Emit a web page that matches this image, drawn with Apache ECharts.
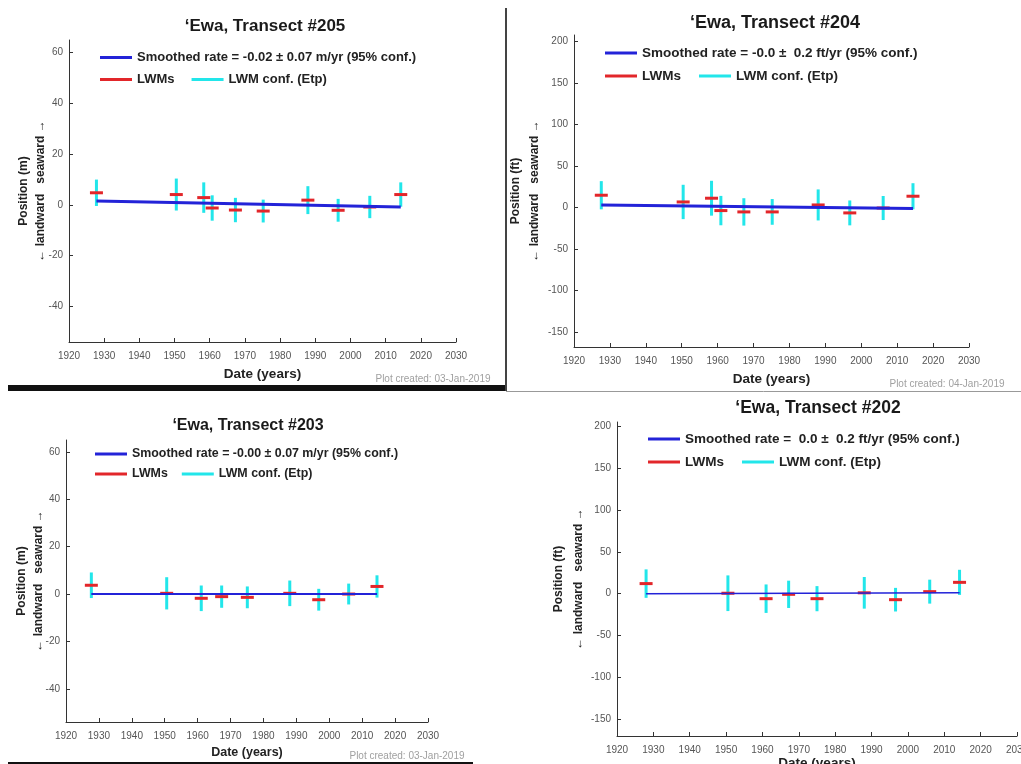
<!DOCTYPE html>
<html>
<head>
<meta charset="utf-8">
<title>'Ewa transects</title>
<script src="https://cdn.jsdelivr.net/npm/echarts@6/dist/echarts.min.js"></script>
<style>
  html, body { margin: 0; padding: 0; background: #fff; }
  #chart { width: 1021px; height: 764px; }
</style>
</head>
<body>
<div id="chart"></div>
<script>
// x axis ticks (shared)
const yearTicks = [1920, 1930, 1940, 1950, 1960, 1970, 1980, 1990, 2000, 2010, 2020, 2030];
const meterTicks = [-40, -20, 0, 20, 40, 60];
const feetTicks = [-150, -100, -50, 0, 50, 100, 150, 200];

// Transect 205 (m)
const years205 = [1927.8, 1950.5, 1958.3, 1960.7, 1967.3, 1975.2, 1987.9, 1996.5, 2005.5, 2014.3];
const pos205 = [4.8, 4.1, 2.9, -1.2, -2.0, -2.4, 1.9, -2.1, -0.8, 4.1];
const err205 = [5.2, 6.3, 6.0, 5.0, 4.8, 4.5, 5.5, 4.5, 4.4, 4.8];
const rateYears205 = [1927.8, 2014.3];
const rateVals205 = [1.6, -0.8];

// Transect 204 (ft)
const years204 = [1927.6, 1950.4, 1958.3, 1960.9, 1967.3, 1975.2, 1988.0, 1996.8, 2006.1, 2014.4];
const pos204 = [14.9, 6.8, 11.3, -3.6, -5.2, -5.2, 3.2, -6.4, -0.5, 13.7];
const err204 = [17, 20.7, 21, 17.7, 16.5, 15.5, 18.7, 15, 14.5, 15.7];
const rateYears204 = [1927.6, 2014.4];
const rateVals204 = [3.2, -1.2];

// Transect 203 (m)
const years203 = [1927.7, 1950.6, 1961.1, 1967.3, 1975.1, 1988.0, 1996.8, 2005.9, 2014.5];
const pos203 = [3.7, 0.3, -1.8, -1.1, -1.4, 0.3, -2.4, 0.0, 3.2];
const err203 = [5.4, 6.8, 5.4, 4.7, 4.6, 5.4, 4.6, 4.4, 4.7];
const rateYears203 = [1927.7, 2014.5];
const rateVals203 = [0.0, 0.0];

// Transect 202 (ft)
const years202 = [1928.0, 1950.5, 1961.0, 1967.2, 1975.0, 1988.0, 1996.6, 2006.0, 2014.2];
const pos202 = [12.0, 0.5, -6.0, -0.8, -6.0, 1.0, -7.2, 2.4, 13.5];
const err202 = [17, 21.3, 17, 16.3, 15, 18.9, 14.1, 14.3, 15];
const rateYears202 = [1928.0, 2014.2];
const rateVals202 = [0.0, 1.2];

const FONT = "'Liberation Sans', Arial, Helvetica, sans-serif";
const BLUE = '#2323d8';
const RED = '#e2262a';
const CYAN = '#22e6ea';

const panels = [
  {
    title: '\u2018Ewa, Transect #205', rate: 'Smoothed rate = -0.02 \u00b1 0.07 m/yr (95% conf.)',
    unit: 'm', years: years205, pos: pos205, err: err205, rx: rateYears205, ry: rateVals205,
    ticks: meterTicks, ymin: -54, ymax: 65,
    grid: { left: 69, top: 40, width: 387, height: 302 },
    titleX: 265, titleY: 18, titleSize: 17,
    legX: 100, leg1Y: 51, leg2Y: 73, legSize: 13, legGap: 17,
    rateWidth: 3, created: '03-Jan-2019', createdX: 433, createdY: 379,
    xNameGap: 25, xNameSize: 13.5, yNameGap: 20, yNameLine: 17
  },
  {
    title: '\u2018Ewa, Transect #204', rate: 'Smoothed rate = -0.0 \u00b1  0.2 ft/yr (95% conf.)',
    unit: 'ft', years: years204, pos: pos204, err: err204, rx: rateYears204, ry: rateVals204,
    ticks: feetTicks, ymin: -168, ymax: 208,
    grid: { left: 574, top: 35, width: 395, height: 312 },
    titleX: 775, titleY: 14, titleSize: 18,
    legX: 605, leg1Y: 46, leg2Y: 69, legSize: 13.5, legGap: 18,
    rateWidth: 3, created: '04-Jan-2019', createdX: 947, createdY: 384,
    xNameGap: 25, xNameSize: 13.5, yNameGap: 30, yNameLine: 19
  },
  {
    title: '\u2018Ewa, Transect #203', rate: 'Smoothed rate = -0.00 \u00b1 0.07 m/yr (95% conf.)',
    unit: 'm', years: years203, pos: pos203, err: err203, rx: rateYears203, ry: rateVals203,
    ticks: meterTicks, ymin: -54, ymax: 65,
    grid: { left: 66, top: 440, width: 362, height: 282 },
    titleX: 248, titleY: 418, titleSize: 16,
    legX: 95, leg1Y: 448, leg2Y: 468, legSize: 12.4, legGap: 14,
    rateWidth: 2, created: '03-Jan-2019', createdX: 407, createdY: 756,
    xNameGap: 24, xNameSize: 12.5, yNameGap: 19, yNameLine: 17
  },
  {
    title: '\u2018Ewa, Transect #202', rate: 'Smoothed rate =  0.0 \u00b1  0.2 ft/yr (95% conf.)',
    unit: 'ft', years: years202, pos: pos202, err: err202, rx: rateYears202, ry: rateVals202,
    ticks: feetTicks, ymin: -170, ymax: 205,
    grid: { left: 617, top: 422, width: 400, height: 314 },
    titleX: 818, titleY: 399, titleSize: 17.5,
    legX: 648, leg1Y: 432, leg2Y: 455, legSize: 13.5, legGap: 18,
    rateWidth: 1.5, created: null,
    xNameGap: 20, xNameSize: 13.5, yNameGap: 28, yNameLine: 20
  }
];

const option = {
  backgroundColor: '#fff',
  animation: false,
  title: [], legend: [], grid: [], xAxis: [], yAxis: [], series: [], graphic: []
};

panels.forEach((p, i) => {
  option.title.push({
    text: p.title, left: p.titleX, top: p.titleY, textAlign: 'center', padding: 0,
    textStyle: { fontFamily: FONT, fontSize: p.titleSize, fontWeight: 'bold', color: '#1a1a1a' }
  });
  option.grid.push(Object.assign({ containLabel: false, outerBoundsMode: 'none' }, p.grid));
  option.xAxis.push({
    type: 'value', gridIndex: i, min: 1920, max: 2030, interval: 10,
    name: 'Date (years)', nameLocation: 'middle', nameGap: p.xNameGap, nameMoveOverlap: false,
    nameTextStyle: { fontFamily: FONT, fontSize: p.xNameSize, fontWeight: 'bold', color: '#222' },
    axisLine: { onZero: false, lineStyle: { color: '#333', width: 1 } },
    axisTick: { inside: true, length: 4, lineStyle: { color: '#333' } },
    axisLabel: { fontFamily: FONT, fontSize: 10, color: '#555', margin: 9,
      formatter: v => String(v) },
    splitLine: { show: false }
  });
  option.yAxis.push({
    type: 'value', gridIndex: i, min: p.ymin, max: p.ymax,
    name: 'Position (' + p.unit + ')\n\u2190 landward   seaward \u2192',
    nameLocation: 'middle', nameRotate: 90, nameGap: p.yNameGap, nameMoveOverlap: false,
    nameTextStyle: { fontFamily: FONT, fontSize: 12, fontWeight: 'bold', color: '#222', lineHeight: p.yNameLine },
    axisLine: { show: true, onZero: false, lineStyle: { color: '#333', width: 1 } },
    axisTick: { show: true, inside: true, length: 4, lineStyle: { color: '#333' }, customValues: p.ticks },
    axisLabel: { fontFamily: FONT, fontSize: 10, color: '#555', margin: 6, customValues: p.ticks },
    splitLine: { show: false }
  });

  const lwmName = 'LWMs';
  const confName = 'LWM conf. (Etp)';
  const legText = { fontFamily: FONT, fontSize: p.legSize, fontWeight: 'bold', color: '#222' };
  option.legend.push({
    data: [p.rate], left: p.legX, top: p.leg1Y, icon: 'rect', padding: 0,
    itemWidth: 32, itemHeight: 3, selectedMode: false, textStyle: legText
  });
  option.legend.push({
    data: [lwmName, confName], left: p.legX, top: p.leg2Y, icon: 'rect', padding: 0,
    itemWidth: 32, itemHeight: 3, itemGap: p.legGap, selectedMode: false, textStyle: legText
  });

  // confidence bars
  option.series.push({
    name: confName, type: 'custom', xAxisIndex: i, yAxisIndex: i,
    itemStyle: { color: CYAN },
    data: p.years.map((y, k) => [y, p.pos[k], p.err[k]]),
    encode: { x: 0, y: 1 },
    renderItem(params, api) {
      const x = api.value(0), v = api.value(1), e = api.value(2);
      const a = api.coord([x, v + e]);
      const b = api.coord([x, v - e]);
      return {
        type: 'line',
        shape: { x1: a[0], y1: a[1], x2: b[0], y2: b[1] },
        style: { stroke: CYAN, lineWidth: 3 }
      };
    },
    z: 2
  });
  // shoreline positions
  option.series.push({
    name: lwmName, type: 'scatter', xAxisIndex: i, yAxisIndex: i,
    symbol: 'rect', symbolSize: [13, 3],
    itemStyle: { color: RED, opacity: 1 },
    data: p.years.map((y, k) => [y, p.pos[k]]),
    z: 3
  });
  // smoothed rate line
  option.series.push({
    name: p.rate, type: 'line', xAxisIndex: i, yAxisIndex: i,
    symbol: 'none', lineStyle: { color: BLUE, width: p.rateWidth },
    itemStyle: { color: BLUE },
    data: p.rx.map((y, k) => [y, p.ry[k]]),
    z: 4
  });

  if (p.created) {
    option.graphic.push({
      type: 'text', x: p.createdX, y: p.createdY,
      style: { text: 'Plot created: ' + p.created, fill: '#a0a0a0', font: '10px ' + FONT,
        align: 'center', verticalAlign: 'middle' }
    });
  }
});

// separators from the screenshot collage
option.graphic.push(
  { type: 'rect', shape: { x: 8, y: 385, width: 498, height: 6 }, style: { fill: '#111' } },
  { type: 'line', shape: { x1: 506, y1: 8, x2: 506, y2: 391 }, style: { stroke: '#444', lineWidth: 2 } },
  { type: 'line', shape: { x1: 506, y1: 391.5, x2: 1021, y2: 391.5 }, style: { stroke: '#999', lineWidth: 1 } },
  { type: 'rect', shape: { x: 8, y: 762, width: 465, height: 2 }, style: { fill: '#111' } }
);

const chart = echarts.init(document.getElementById('chart'));
chart.setOption(option);
</script>
</body>
</html>
